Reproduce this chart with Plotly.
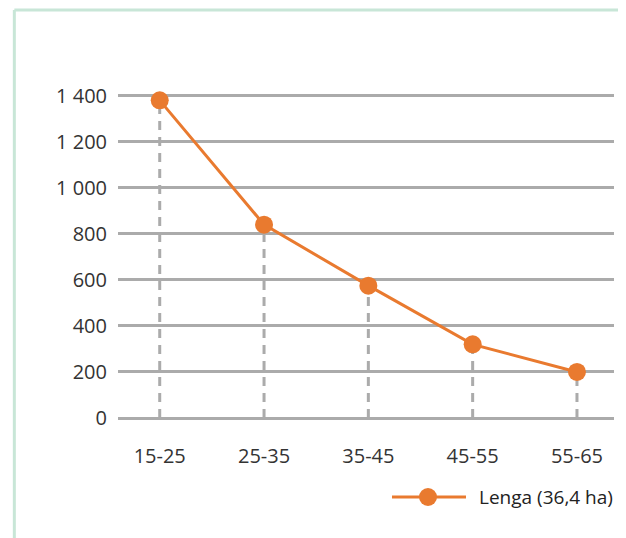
import plotly.graph_objects as go

# diameter classes (cm) and stem counts per ha
classes = ["15-25", "25-35", "35-45", "45-55", "55-65"]
values = [1380, 840, 575, 320, 200]
series_name = "Lenga (36,4 ha)"
y_ticks = [0, 200, 400, 600, 800, 1000, 1200, 1400]

orange = "#E97A2F"
grey = "#ABABAB"

fig = go.Figure()

# dashed drop lines from each point down to zero
for c, v in zip(classes, values):
    fig.add_trace(go.Scatter(
        x=[c, c], y=[0, v], mode="lines",
        line=dict(color=grey, width=3, dash="9px,7px"),
        showlegend=False, hoverinfo="skip"))

fig.add_trace(go.Scatter(
    x=classes, y=values, mode="lines+markers", name=series_name,
    line=dict(color=orange, width=3),
    marker=dict(color=orange, size=18),
    cliponaxis=False, showlegend=False))

# light green frame around the chart
frame = dict(color="#C8E6D7", width=3)
fig.add_shape(type="line", xref="paper", yref="paper",
              x0=-0.209, x1=-0.209, y0=1.2554, y1=-0.4, line=frame)
fig.add_shape(type="line", xref="paper", yref="paper",
              x0=-0.209, x1=1.05, y0=1.2554, y1=1.2554, line=frame)

# legend drawn by hand so the line sample is as long as in the original
ly = -0.2431
fig.add_shape(type="line", xref="paper", yref="paper",
              x0=0.5524, x1=0.7016, y0=ly, y1=ly,
              line=dict(color=orange, width=3))
fig.add_shape(type="circle", xref="paper", yref="paper",
              xsizemode="pixel", ysizemode="pixel",
              xanchor=0.625, yanchor=ly, x0=-9, x1=9, y0=-9, y1=9,
              fillcolor=orange, line=dict(width=0))
fig.add_annotation(xref="paper", yref="paper", x=0.7238, y=ly,
                   xanchor="left", yanchor="middle", showarrow=False,
                   text=series_name, font=dict(size=19, color="#222222"))

fig.update_layout(
    width=618, height=530,
    margin=dict(l=110, r=12, t=85, b=120),
    paper_bgcolor="white", plot_bgcolor="white",
    separators=", ",
    font=dict(family="Open Sans, sans-serif", size=20, color="#333333"),
    showlegend=False,
    xaxis=dict(type="category", range=[-0.4, 4.355], showgrid=False,
               showline=False, ticks="", ticklabelstandoff=24),
    yaxis=dict(range=[0, 1412], tickvals=y_ticks, tickformat=",d",
               showgrid=True, gridcolor=grey, gridwidth=3,
               zeroline=True, zerolinecolor=grey, zerolinewidth=3,
               showline=False, ticks="", ticklabelstandoff=10),
)

fig.write_html("out.html")
